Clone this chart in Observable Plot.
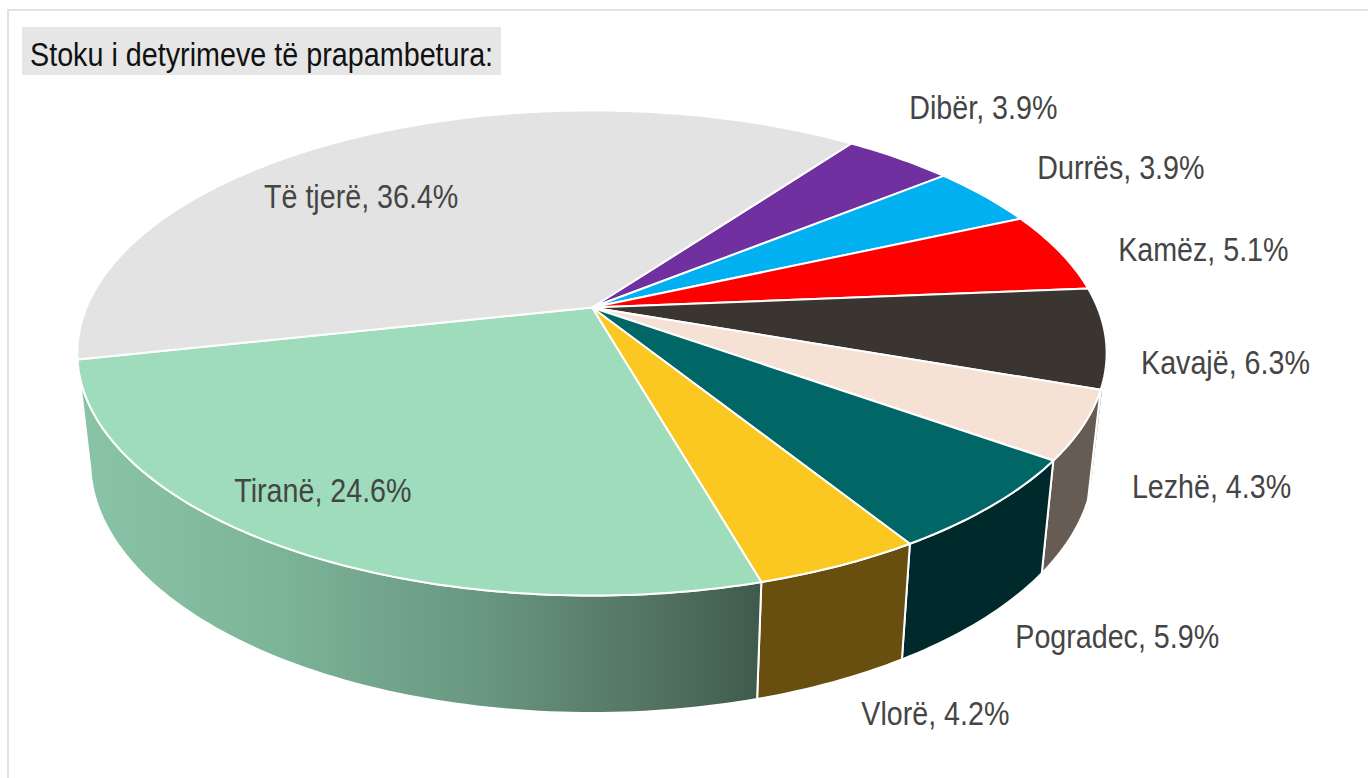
<!DOCTYPE html>
<html><head><meta charset="utf-8">
<script src="https://cdn.jsdelivr.net/npm/d3@7"></script>
<script src="https://cdn.jsdelivr.net/npm/@observablehq/plot@0.6"></script>
<style>
html,body{margin:0;padding:0;background:#fff;overflow:hidden}
#wrap{position:relative;width:1368px;height:778px}
#frame{position:absolute;left:7px;top:9px;right:0;bottom:0;border-left:2px solid #e3e3e3;border-top:2px solid #e3e3e3;box-sizing:border-box}
#title{position:absolute;left:22px;top:27px;height:48px;width:479px;background:#e6e6e6;color:#111;font:34px/54px "Liberation Sans",sans-serif;padding-left:8px;box-sizing:border-box;white-space:nowrap;overflow:hidden}
#title span{display:inline-block;transform:scaleX(0.845);transform-origin:0 50%}
svg{display:block;position:absolute;left:0;top:0}
</style></head>
<body><div id="wrap"><div id="frame"></div></div>
<script>
const titleText = "Stoku i detyrimeve të prapambetura:";
const categories = ["Dibër","Durrës","Kamëz","Kavajë","Lezhë","Pogradec","Vlorë","Tiranë","Të tjerë"];
const shares     = [3.9,3.9,5.1,6.3,4.3,5.9,4.2,24.6,36.4];
const topColors  = ["#7030a0","#00b0f0","#ff0000","#3b3532","#f6e1d5","#006666","#fac821","#9edcbc","#e3e3e3"];
const wallColors = [null,null,null,"#5d554d","#665c53","#00292b","#684f0f","url(#wallTirane)",null];

// label placement in the plane of the disc: turn from mid-slice (degrees), reach from centre (radii)
const labelTurn  = [-1.3,1.9,3.0,3.5,4.6,6.8,2.6,3.2,-11.1];
const labelReach = [1.368,1.355,1.293,1.221,1.264,1.386,1.408,0.828,0.719];

// tilted-disc view
const firstAngle = 36.2, tilt = 0.1876, wallVisibleFrom = 105, wallVisibleTo = 257.67;
const rad = d => d * Math.PI / 180;
function onDisc(deg, r = 1) {
  const u = r * Math.sin(rad(deg)), v = -r * Math.cos(rad(deg)), w = 1 - tilt * v;
  return {x: u / w, y: v / w};
}
const onFloor = p => ({x: 0.975 * p.x, y: 1.035 * p.y + 0.459});

const total = d3.sum(shares);
let run = firstAngle;
const slices = categories.map((name, i) => {
  const a0 = run; run += shares[i] / total * 360;
  return {name, i, a0, a1: run, mid: (a0 + run) / 2};
});
const arc = (a0, a1) => {
  const n = Math.max(2, Math.ceil(a1 - a0));
  return d3.range(n + 1).map(j => a0 + (a1 - a0) * j / n);
};

const topRows = slices.flatMap(s => {
  const pts = [{x: 0, y: 0}, ...arc(s.a0, s.a1).map(a => onDisc(a)), {x: 0, y: 0}];
  return pts.map(p => ({...p, name: s.name, fill: topColors[s.i]}));
});
const wallRows = slices.filter(s => wallColors[s.i]).flatMap(s => {
  const a0 = Math.max(s.a0, wallVisibleFrom), a1 = Math.min(s.a1, wallVisibleTo);
  const upper = arc(a0, a1).map(a => onDisc(a));
  const lower = upper.map(onFloor).reverse();
  return [...upper, ...lower, upper[0]].map(p => ({...p, name: s.name, fill: wallColors[s.i]}));
});
const labelRows = slices.map(s => ({
  ...onDisc(s.mid + labelTurn[s.i], labelReach[s.i]),
  text: `${s.name}, ${shares[s.i].toFixed(1)}%`
}));

const defs = () => {
  const ns = "http://www.w3.org/2000/svg";
  const d = document.createElementNS(ns, "defs");
  const g = document.createElementNS(ns, "linearGradient");
  g.setAttribute("id", "wallTirane");
  [[0,"#8ac4a6"],[0.3,"#7cb497"],[0.6,"#689680"],[0.85,"#527260"],[1,"#3f5a4c"]].forEach(([o,c]) => {
    const st = document.createElementNS(ns, "stop");
    st.setAttribute("offset", o); st.setAttribute("stop-color", c); g.appendChild(st);
  });
  d.appendChild(g);
  return d;
};

const chart = Plot.plot({
  width: 1368, height: 778, margin: 0,
  style: {background: "transparent"},
  x: {domain: [-591.5/505.5, 776.5/505.5], range: [0, 1368], axis: null},
  y: {domain: [-307/234, 471/234], range: [0, 778], axis: null},
  marks: [
    defs,
    Plot.line(wallRows, {x: "x", y: "y", z: "name", fill: d => d.fill, stroke: "#fff", strokeWidth: 2, strokeLinejoin: "round"}),
    Plot.line(topRows, {x: "x", y: "y", z: "name", fill: d => d.fill, stroke: "#fff", strokeWidth: 2, strokeLinejoin: "round"}),
    Plot.text(labelRows, {x: "x", y: "y", text: "text", fontSize: 33, lineAnchor: "middle", textAnchor: "middle",
      fontFamily: '"Liberation Sans",sans-serif', fill: "#454545"})
  ]
});
const wrap = document.getElementById("wrap");
wrap.appendChild(chart);
// narrow the labels, as the reference typeface is condensed
chart.querySelectorAll("text").forEach(t => {
  t.setAttribute("textLength", t.getComputedTextLength() * 0.868);
  t.setAttribute("lengthAdjust", "spacingAndGlyphs");
});
const title = document.createElement("div");
title.id = "title";
const span = document.createElement("span");
span.textContent = titleText;
title.appendChild(span);
wrap.appendChild(title);
</script></body></html>
